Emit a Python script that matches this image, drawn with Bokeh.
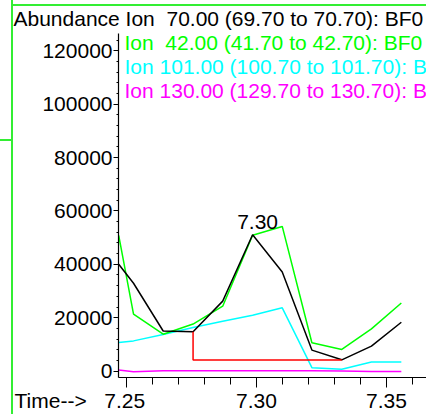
from bokeh.plotting import figure
from bokeh.models import Range1d, Label, FixedTicker, PrintfTickFormatter
from bokeh.core.properties import value
from bokeh.embed import file_html
from bokeh.resources import INLINE

# ---- data ----
times = [7.2470, 7.2527, 7.2641, 7.2756, 7.2870, 7.2985, 7.3099, 7.3213, 7.3328, 7.3442, 7.3557]
ion70 = [40000, 32900, 15000, 14700, 26200, 51100, 37100, 7850, 4200, 9350, 18300]
ion42 = [50800, 21300, 13800, 17600, 24300, 50900, 54200, 10600, 8100, 15800, 25500]
ion101 = [10700, 11300, 13700, 16300, 18700, 20900, 23700, 1250, 640, 3360, 3360]
ion130 = [400, -250, 100, 100, 100, 100, 100, 100, 0, -150, -150]
base_t = [7.2756, 7.2756, 7.3328]
base_v = [14700, 4150, 4150]
peak_t = [7.2985]
peak_v = [51100]
peak_text = ["7.30"]
legend_texts = [
    "Ion\u00a0\u00a070.00 (69.70 to 70.70): BF0",
    "Ion\u00a0\u00a042.00 (41.70 to 42.70): BF0",
    "Ion 101.00 (100.70 to 101.70): B",
    "Ion 130.00 (129.70 to 130.70): B",
]
series_colors = ["#000000", "#00ff00", "#00ffff", "#ff00ff"]
x_ticks = [7.25, 7.30, 7.35]
x_minor = [7.25, 7.26, 7.27, 7.28, 7.29, 7.30, 7.31, 7.32, 7.33, 7.34, 7.35, 7.36]
y_ticks = [0, 20000, 40000, 60000, 80000, 100000, 120000]
y_minor = list(range(0, 128000, 4000))
y_axis_title = "Abundance"
x_axis_title = "Time-->"

FONT = "Liberation Sans"
FS = "21px"
X0, X1 = 7.24692, 7.36538
Y0, Y1 = -2420.0, 126500.0
FL, FR, FT, FB = 118, 426, 33, 379   # frame edges on the page

def xd(px):
    return X0 + (px - FL) / (FR - FL) * (X1 - X0)

def yd(py):
    return Y1 - (py - FT) / (FB - FT) * (Y1 - Y0)

G = "#33ee33"
bg = ("linear-gradient({g},{g}) 12px 4px / 414px 2px no-repeat, "
      "linear-gradient({g},{g}) 11px 0px / 2px 414px no-repeat, "
      "linear-gradient({g},{g}) 0px 139px / 12px 2px no-repeat, white").format(g=G)

p = figure(width=426, height=414, output_backend="svg", toolbar_location=None,
           x_range=Range1d(X0, X1), y_range=Range1d(Y0, Y1),
           min_border_left=FL, min_border_right=0, min_border_top=FT, min_border_bottom=414 - FB)
p.styles = {"background": bg}
p.outline_line_color = None
p.grid.visible = False
p.background_fill_color = "white"
p.border_fill_color = None

for ys, c in zip([ion130, ion101, ion42, ion70], [series_colors[3], series_colors[2], series_colors[1], series_colors[0]]):
    p.line(times, ys, line_color=c, line_width=1.5)
p.line(base_t, base_v, line_color="#ff0000", line_width=1.5)

p.text(x=peak_t, y=peak_v, text=peak_text, text_font=value(FONT), text_font_size=FS,
       text_align="center", text_baseline="alphabetic", x_offset=5, y_offset=-13, text_color="black")

# axes
xa = p.xaxis[0]
xa.ticker = FixedTicker(ticks=x_ticks, minor_ticks=x_minor)
xa.formatter = PrintfTickFormatter(format="%.2f")
# the x title sits on the tick-label line, left of the first label
xa.major_label_overrides = {x_ticks[0]: x_axis_title + "\u00a0" * 3 + "%.2f" % x_ticks[0] + "\u00a0" * 16}
ya = p.yaxis[0]
ya.ticker = FixedTicker(ticks=y_ticks, minor_ticks=y_minor)
ya.formatter = PrintfTickFormatter(format="%d")
for ax in (xa, ya):
    ax.axis_line_color = "black"
    ax.axis_line_width = 1.2
    ax.major_tick_line_color = "black"
    ax.minor_tick_line_color = "black"
    ax.major_tick_in = 0
    ax.minor_tick_in = 0
    ax.major_label_text_font = FONT
    ax.major_label_text_font_size = FS
    ax.major_label_text_color = "black"
xa.major_tick_out = 10
xa.minor_tick_out = 7
xa.major_label_standoff = 1
ya.major_tick_out = 5
ya.minor_tick_out = 2
ya.major_label_standoff = 1

# top line: y title and first legend entry (title panel is not clipped)
p.title.text = y_axis_title + "\u00a0" + legend_texts[0]
p.title.align = "left"
p.title.offset = 13 - FL
p.title.standoff = 7
p.title.vertical_align = "bottom"
p.title.text_font = FONT
p.title.text_font_size = FS
p.title.text_font_style = "normal"
p.title.text_color = series_colors[0]

for i in range(1, 4):
    p.add_layout(Label(x=xd(124), y=yd(18.5 + 24 * i), text=legend_texts[i], text_font=FONT,
                       text_font_size=FS, text_baseline="alphabetic", text_color=series_colors[i]))

open("out.html", "w").write(file_html(p, INLINE))
